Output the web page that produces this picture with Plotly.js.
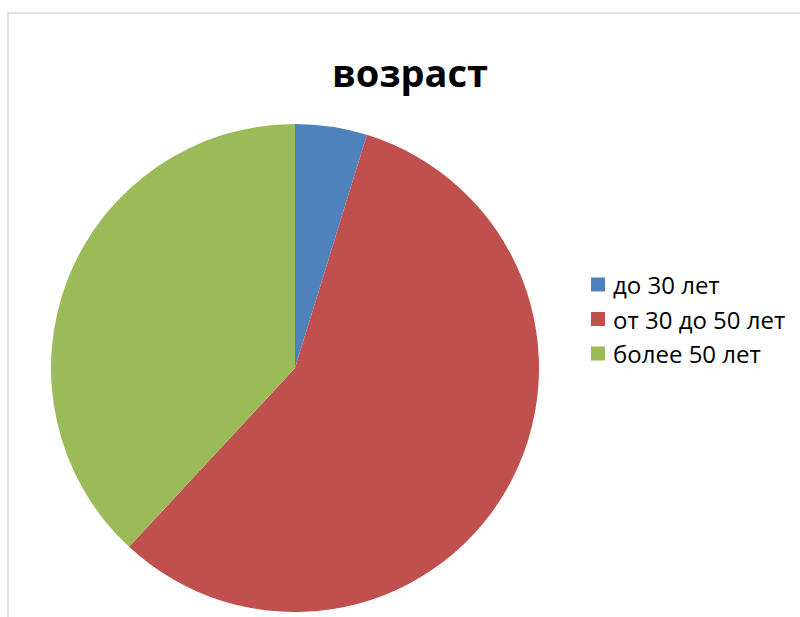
<!DOCTYPE html>
<html>
<head>
<meta charset="utf-8">
<script src="https://cdn.plot.ly/plotly-3.0.1.min.js"></script>
<style>html,body{margin:0;padding:0;background:#fff;}#chart{width:800px;height:617px;}</style>
</head>
<body>
<div id="chart"></div>
<script>
const chartTitle = "возраст";
const categories = ["до 30 лет", "от 30 до 50 лет", "более 50 лет"];
const values = [1, 12, 8];
const colors = ["#4F81BD", "#C0504D", "#9BBB59"];

const W = 800, H = 617;
const px = x => x / W;
const py = y => 1 - y / H;
const FONT = "'Open Sans', Lato, sans-serif";

const trace = {
  type: "pie",
  labels: categories,
  values: values,
  sort: false,
  direction: "clockwise",
  rotation: 0,
  textinfo: "none",
  hoverinfo: "label+value+percent",
  marker: {colors: colors, line: {width: 0}},
  domain: {x: [px(51), px(539)], y: [py(612), py(124)]},
  showlegend: false
};

// Legend drawn as layout shapes + annotations (Excel-style spacing)
const legendTop = 284.5, legendStep = 34.5;
const legendShapes = categories.map((c, i) => ({
  type: "rect", xref: "paper", yref: "paper",
  x0: px(591), x1: px(605),
  y0: py(legendTop + i * legendStep + 7), y1: py(legendTop + i * legendStep - 7),
  line: {width: 0}, fillcolor: colors[i]
}));
const legendLabels = categories.map((c, i) => ({
  text: c, xref: "paper", yref: "paper",
  x: px(611), xanchor: "left",
  y: py(legendTop + i * legendStep), yanchor: "middle",
  showarrow: false,
  font: {family: FONT, size: 24, color: "#000000"}
}));

const layout = {
  width: W, height: H,
  margin: {l: 0, r: 0, t: 0, b: 0},
  paper_bgcolor: "#ffffff",
  showlegend: false,
  title: {
    text: chartTitle,
    font: {family: FONT, size: 38, color: "#000000", weight: "bold"},
    x: px(410), xanchor: "center", xref: "paper",
    y: py(74), yanchor: "middle", yref: "paper"
  },
  annotations: legendLabels,
  shapes: [{
    type: "rect", xref: "paper", yref: "paper",
    x0: px(8), x1: px(820), y0: py(640), y1: py(13),
    line: {color: "#D9D9D9", width: 1.5}, fillcolor: "rgba(0,0,0,0)", layer: "below"
  }].concat(legendShapes)
};

Plotly.newPlot("chart", [trace], layout, {displayModeBar: false, staticPlot: true});
</script>
</body>
</html>
